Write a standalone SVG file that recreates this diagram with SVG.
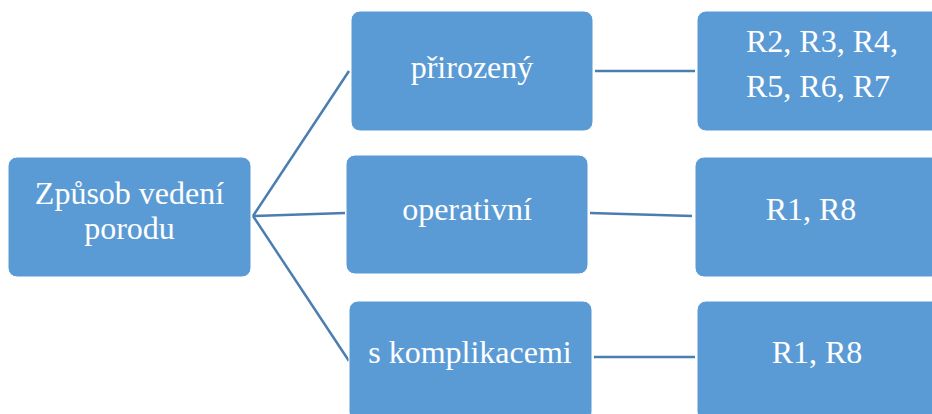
<svg xmlns="http://www.w3.org/2000/svg" width="932" height="414" viewBox="0 0 932 414">
<style>
.box{fill:#5B9BD5;stroke:#FFFFFF;stroke-width:1}
.lbl{font-family:'Liberation Serif','Times New Roman','DejaVu Serif',serif;font-size:32px;fill:#FFFFFF;text-anchor:middle}
.con{stroke:#4A7EB0;stroke-width:2.5;fill:none}
</style>
<rect width="932" height="414" fill="#FFFFFF"/>
<g id="connectors">
<line class="con" x1="253" y1="216" x2="349" y2="71"/>
<line class="con" x1="253" y1="216" x2="345" y2="213"/>
<line class="con" x1="253" y1="216" x2="349" y2="361"/>
<line class="con" x1="595" y1="71" x2="695" y2="71"/>
<line class="con" x1="590" y1="213" x2="692" y2="216"/>
<line class="con" x1="594" y1="357" x2="695" y2="357"/>
</g>
<g id="root">
<rect class="box" x="8" y="157" width="243" height="120" rx="9"/>
<text class="lbl" x="129.5" y="204" font-family="Liberation Serif">Způsob vedení</text>
<text class="lbl" x="129.5" y="239" font-family="Liberation Serif">porodu</text>
</g>
<g id="prirozeny">
<rect class="box" x="351" y="11" width="242" height="120" rx="9"/>
<text class="lbl" x="472" y="78">přirozený</text>
</g>
<g id="operativni">
<rect class="box" x="346" y="155" width="242" height="119" rx="9"/>
<text class="lbl" x="467" y="220">operativní</text>
</g>
<g id="komplikace">
<rect class="box" x="349" y="301" width="243" height="120" rx="9"/>
<text class="lbl" x="470" y="363">s komplikacemi</text>
</g>
<g id="r2r7">
<rect class="box" x="697" y="11" width="245" height="120" rx="9"/>
<text class="lbl" x="822" y="52">R2, R3, R4,</text>
<text class="lbl" x="818" y="97">R5, R6, R7</text>
</g>
<g id="r1r8a">
<rect class="box" x="695" y="157" width="245" height="120" rx="9"/>
<text class="lbl" x="811" y="220">R1, R8</text>
</g>
<g id="r1r8b">
<rect class="box" x="697" y="301" width="245" height="120" rx="9"/>
<text class="lbl" x="817" y="363">R1, R8</text>
</g>
</svg>
